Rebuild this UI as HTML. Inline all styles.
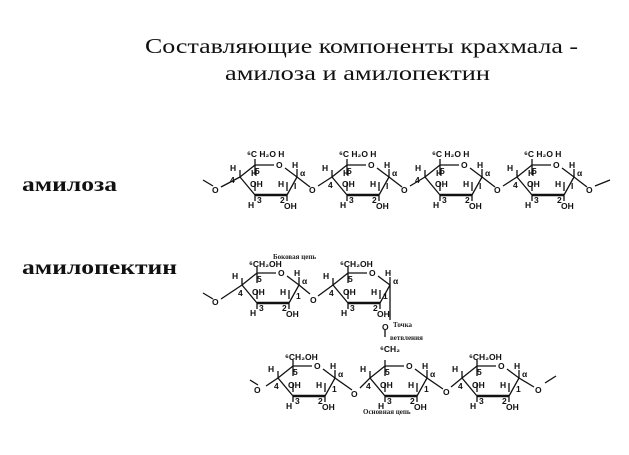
<!DOCTYPE html>
<html><head><meta charset="utf-8"><style>
html,body{margin:0;padding:0;background:#fff;}
svg{display:block}
.t{font-family:"Liberation Serif",serif;font-size:21px;fill:#111}
.l{font-family:"Liberation Serif",serif;font-size:20px;font-weight:bold;fill:#111}
.s{font-family:"Liberation Sans",sans-serif;font-size:8.5px;font-weight:bold;fill:#111}
.n{font-family:"Liberation Serif",serif;font-size:7px;font-weight:bold;fill:#222}
path,line{stroke:#111;stroke-width:1.3;fill:none}
.b{stroke-width:2.6}
</style></head><body>
<svg width="629" height="455" viewBox="0 0 629 455" xmlns="http://www.w3.org/2000/svg">
<defs>
<g id="ring">
<path d="M0,0 L15,-12 L34,-12 M45,-9 L57,0 L47,18 M15,18 L0,0 M0,0 V-7 M57,0 V-8 M15,18 V24 M47,18 V24 M15,-12 V-18 M15,-12 V-2 M47,5 V14 M15,5 V14"/>
<path class="b" d="M15,18 H47"/>
</g>
</defs>
<text class="t" x="145" y="53" textLength="433" lengthAdjust="spacingAndGlyphs">Составляющие компоненты крахмала -</text>
<text class="t" x="225" y="80" textLength="265" lengthAdjust="spacingAndGlyphs">амилоза и амилопектин</text>
<text class="l" x="22" y="191" textLength="95" lengthAdjust="spacingAndGlyphs">амилоза</text>
<text class="l" x="22" y="274" textLength="155" lengthAdjust="spacingAndGlyphs">амилопектин</text>

<!-- amylose -->
<path d="M203,180 L213,186 M221,187 L240,177 M297,177 L310,187 M318,186 L332,177 M389,177 L402,187 M410,186 L425,177 M482,177 L495,187 M503,186 L517,177 M574,177 L587,187 M595,186 L610,180"/>
<text class="s" x="212" y="193">O</text>
<text class="s" x="309" y="193">O</text>
<text class="s" x="401" y="193">O</text>
<text class="s" x="494" y="193">O</text>
<text class="s" x="586" y="193">O</text>

<g transform="translate(240,177)"><use href="#ring"/>
<text class="s" x="7" y="-20">⁶C H₂O H</text><text class="s" x="-10" y="-6">H</text><text class="s" x="-10" y="6">4</text><text class="s" x="36" y="-9">O</text><text class="s" x="11" y="-1">H</text><text class="s" x="10" y="10">OH</text><text class="s" x="38" y="10">H</text><text class="s" x="54" y="12">I</text><text class="s" x="60" y="-1">α</text><text class="s" x="52" y="-9">H</text><text class="s" x="8" y="31">H</text><text class="s" x="17" y="26">3</text><text class="s" x="40" y="26">2</text><text class="s" x="44" y="32">OH</text><text class="s" x="15" y="-3">5</text></g>
<g transform="translate(332,177)"><use href="#ring"/>
<text class="s" x="7" y="-20">⁶C H₂O H</text><text class="s" x="-10" y="-6">H</text><text class="s" x="-4" y="11">4</text><text class="s" x="36" y="-9">O</text><text class="s" x="11" y="-1">H</text><text class="s" x="10" y="10">OH</text><text class="s" x="38" y="10">H</text><text class="s" x="54" y="12">I</text><text class="s" x="60" y="-1">α</text><text class="s" x="52" y="-9">H</text><text class="s" x="8" y="31">H</text><text class="s" x="17" y="26">3</text><text class="s" x="40" y="26">2</text><text class="s" x="44" y="32">OH</text><text class="s" x="15" y="-3">5</text></g>
<g transform="translate(425,177)"><use href="#ring"/>
<text class="s" x="7" y="-20">⁶C H₂O H</text><text class="s" x="-10" y="-6">H</text><text class="s" x="-10" y="6">4</text><text class="s" x="36" y="-9">O</text><text class="s" x="11" y="-1">H</text><text class="s" x="10" y="10">OH</text><text class="s" x="38" y="10">H</text><text class="s" x="54" y="12">I</text><text class="s" x="60" y="-1">α</text><text class="s" x="52" y="-9">H</text><text class="s" x="8" y="31">H</text><text class="s" x="17" y="26">3</text><text class="s" x="40" y="26">2</text><text class="s" x="44" y="32">OH</text><text class="s" x="15" y="-3">5</text></g>
<g transform="translate(517,177)"><use href="#ring"/>
<text class="s" x="7" y="-20">⁶C H₂O H</text><text class="s" x="-10" y="-6">H</text><text class="s" x="-4" y="11">4</text><text class="s" x="36" y="-9">O</text><text class="s" x="11" y="-1">H</text><text class="s" x="10" y="10">OH</text><text class="s" x="38" y="10">H</text><text class="s" x="54" y="12">I</text><text class="s" x="60" y="-1">α</text><text class="s" x="52" y="-9">H</text><text class="s" x="8" y="31">H</text><text class="s" x="17" y="26">3</text><text class="s" x="40" y="26">2</text><text class="s" x="44" y="32">OH</text><text class="s" x="15" y="-3">5</text></g>

<!-- amylopectin upper -->
<text class="n" x="273" y="259">Боковая цепь</text>
<path d="M203,293 L213,299 M221,299 L242,285 M299,285 L310,294 M318,296 L333,285 M390,285 V320 M385,330 V337"/>
<text class="s" x="212" y="305">O</text>
<text class="s" x="310" y="303">O</text>
<text class="s" x="382" y="330">O</text>
<text class="n" x="393" y="327">Точка</text>
<text class="n" x="390" y="340">ветвления</text>
<text class="s" x="380" y="352">⁶CH₂</text>
<g transform="translate(242,285)"><use href="#ring"/>
<text class="s" x="7" y="-18">⁶CH₂OH</text><text class="s" x="-10" y="-6">H</text><text class="s" x="-4" y="11">4</text><text class="s" x="36" y="-9">O</text><text class="s" x="10" y="10">OH</text><text class="s" x="38" y="10">H</text><text class="s" x="54" y="14">1</text><text class="s" x="60" y="-1">α</text><text class="s" x="52" y="-9">H</text><text class="s" x="8" y="31">H</text><text class="s" x="17" y="26">3</text><text class="s" x="40" y="26">2</text><text class="s" x="44" y="32">OH</text><text class="s" x="15" y="-3">5</text></g>
<g transform="translate(333,285)"><use href="#ring"/>
<text class="s" x="7" y="-18">⁶CH₂OH</text><text class="s" x="-10" y="-6">H</text><text class="s" x="-4" y="11">4</text><text class="s" x="36" y="-9">O</text><text class="s" x="10" y="10">OH</text><text class="s" x="38" y="10">H</text><text class="s" x="50" y="14">1</text><text class="s" x="60" y="-1">α</text><text class="s" x="52" y="-9">H</text><text class="s" x="8" y="31">H</text><text class="s" x="17" y="26">3</text><text class="s" x="40" y="26">2</text><text class="s" x="44" y="32">OH</text><text class="s" x="15" y="-3">5</text></g>

<!-- amylopectin lower -->
<path d="M250,380 L258,385 M266,386 L278,378 M335,378 L352,390 M360,388 L370,378 M427,378 L443,389 M451,387 L462,378 M519,378 L534,387 M545,383 L556,376"/>
<text class="s" x="254" y="393">O</text>
<text class="s" x="351" y="397">O</text>
<text class="s" x="443" y="395">O</text>
<text class="s" x="535" y="393">O</text>
<text class="n" x="363" y="414">Основная цепь</text>
<g transform="translate(278,378)"><use href="#ring"/>
<text class="s" x="7" y="-18">⁶CH₂OH</text><text class="s" x="-10" y="-6">H</text><text class="s" x="-4" y="11">4</text><text class="s" x="36" y="-9">O</text><text class="s" x="10" y="10">OH</text><text class="s" x="38" y="10">H</text><text class="s" x="54" y="14">1</text><text class="s" x="60" y="-1">α</text><text class="s" x="52" y="-9">H</text><text class="s" x="8" y="31">H</text><text class="s" x="17" y="26">3</text><text class="s" x="40" y="26">2</text><text class="s" x="44" y="32">OH</text><text class="s" x="15" y="-3">5</text></g>
<g transform="translate(370,378)"><use href="#ring"/>
<text class="s" x="-10" y="-6">H</text><text class="s" x="-4" y="11">4</text><text class="s" x="36" y="-9">O</text><text class="s" x="10" y="10">OH</text><text class="s" x="38" y="10">H</text><text class="s" x="54" y="14">1</text><text class="s" x="60" y="-1">α</text><text class="s" x="52" y="-9">H</text><text class="s" x="8" y="31">H</text><text class="s" x="17" y="26">3</text><text class="s" x="40" y="26">2</text><text class="s" x="44" y="32">OH</text><text class="s" x="15" y="-3">5</text></g>
<g transform="translate(462,378)"><use href="#ring"/>
<text class="s" x="7" y="-18">⁶CH₂OH</text><text class="s" x="-10" y="-6">H</text><text class="s" x="-4" y="11">4</text><text class="s" x="36" y="-9">O</text><text class="s" x="10" y="10">OH</text><text class="s" x="38" y="10">H</text><text class="s" x="54" y="14">1</text><text class="s" x="60" y="-1">α</text><text class="s" x="52" y="-9">H</text><text class="s" x="8" y="31">H</text><text class="s" x="17" y="26">3</text><text class="s" x="40" y="26">2</text><text class="s" x="44" y="32">OH</text><text class="s" x="15" y="-3">5</text></g>
</svg>
</body></html>
